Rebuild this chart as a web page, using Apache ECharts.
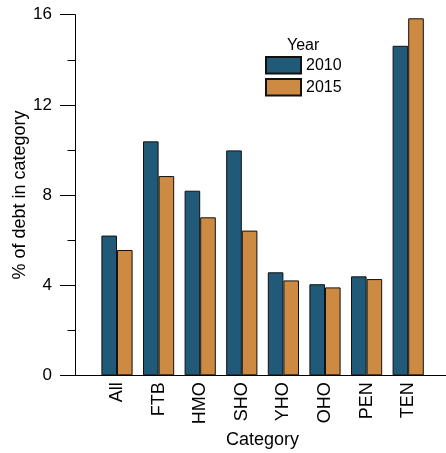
<!DOCTYPE html>
<html>
<head>
<meta charset="utf-8">
<script src="https://cdn.jsdelivr.net/npm/echarts@6/dist/echarts.min.js"></script>
<style>
  html, body { margin: 0; padding: 0; background: #fff; }
  #chart { width: 446px; height: 453px; }
</style>
</head>
<body>
<div id="chart"></div>
<script>
const categories = ['All', 'FTB', 'HMO', 'SHO', 'YHO', 'OHO', 'PEN', 'TEN'];
const years = ['2010', '2015'];
const values2010 = [6.2, 10.38, 8.19, 9.98, 4.57, 4.04, 4.39, 14.62];
const values2015 = [5.56, 8.84, 7.01, 6.42, 4.21, 3.90, 4.27, 15.84];
const yTicks = [0, 4, 8, 12, 16];

const font = "'Liberation Sans', Arial, sans-serif";
const colors = ['#215a79', '#cd8a42'];

function renderChart() {
  const dom = document.getElementById('chart');
  const chart = echarts.init(dom, null, { renderer: 'canvas' });
  const top = 14.7;
  const bottom = 77.7;
  const option = {
    animation: false,
    textStyle: { fontFamily: font },
    title: {
      text: 'Year',
      left: 287,
      top: 38,
      padding: 0,
      textStyle: { fontFamily: font, fontSize: 16, fontWeight: 'normal', color: '#000' }
    },
    legend: {
      data: years,
      orient: 'vertical',
      left: 265,
      top: 56,
      padding: 0,
      itemWidth: 35,
      itemHeight: 16.5,
      itemGap: 3.5,
      icon: 'rect',
      textStyle: { fontFamily: font, fontSize: 16, color: '#000', lineHeight: 16 }
    },
    grid: [
      { left: 96.2, right: 17, top: top, bottom: bottom, containLabel: false, outerBoundsMode: 'none' },
      { left: 75, right: 0, top: top, bottom: bottom, containLabel: false, outerBoundsMode: 'none' }
    ],
    xAxis: [
      {
        type: 'category',
        gridIndex: 0,
        data: categories,
        name: 'Category',
        nameLocation: 'middle',
        nameGap: 56,
        nameMoveOverlap: false,
        nameTextStyle: { fontFamily: font, fontSize: 18, color: '#000' },
        axisLine: { show: false },
        axisTick: { show: false },
        axisLabel: {
          interval: 0,
          rotate: 90,
          margin: 7,
          fontFamily: font,
          fontSize: 18,
          color: '#000'
        }
      },
      {
        type: 'value',
        gridIndex: 1,
        min: 0,
        max: 1,
        axisLine: { show: true, lineStyle: { color: '#000', width: 1 } },
        axisTick: { show: false },
        axisLabel: { show: false },
        splitLine: { show: false }
      }
    ],
    yAxis: [
      {
        type: 'value',
        gridIndex: 0,
        min: yTicks[0],
        max: yTicks[yTicks.length - 1],
        interval: 4,
        offset: 21.2,
        name: '% of debt in category',
        nameLocation: 'middle',
        nameGap: 46,
        nameMoveOverlap: false,
        nameTextStyle: { fontFamily: font, fontSize: 18, color: '#000' },
        axisLine: { show: true, lineStyle: { color: '#000', width: 1 } },
        axisTick: { show: true, length: 15, lineStyle: { color: '#000', width: 1 } },
        minorTick: { show: true, splitNumber: 2, length: 7.5, lineStyle: { color: '#000', width: 1 } },
        axisLabel: { margin: 23, fontFamily: font, fontSize: 17, color: '#000' },
        splitLine: { show: false }
      },
      {
        type: 'value',
        gridIndex: 1,
        show: false
      }
    ],
    series: [
      {
        name: years[0],
        type: 'bar',
        xAxisIndex: 0,
        yAxisIndex: 0,
        data: values2010,
        barWidth: 15.6,
        barGap: '0%',
        itemStyle: { color: colors[0], borderColor: '#111', borderWidth: 1 }
      },
      {
        name: years[1],
        type: 'bar',
        xAxisIndex: 0,
        yAxisIndex: 0,
        data: values2015,
        barWidth: 15.6,
        barGap: '0%',
        itemStyle: { color: colors[1], borderColor: '#111', borderWidth: 1 }
      }
    ]
  };
  chart.setOption(option);
  return chart;
}

renderChart();
</script>
</body>
</html>
